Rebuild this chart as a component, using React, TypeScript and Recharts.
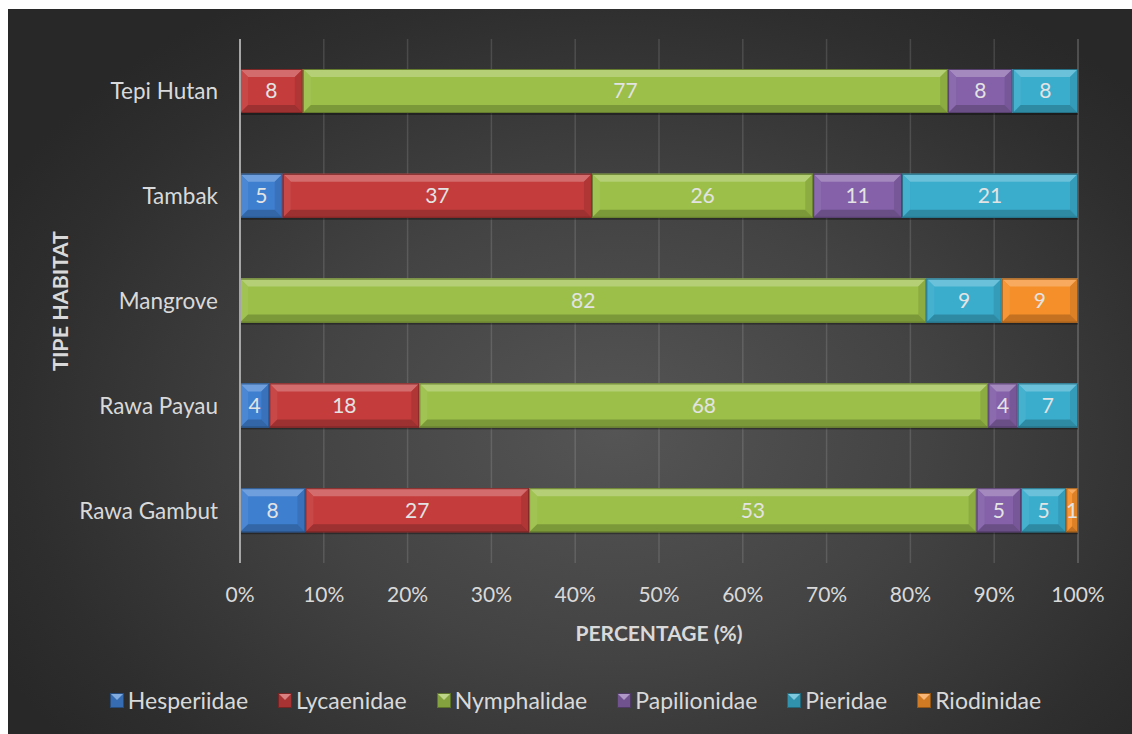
import { BarChart, Bar, XAxis, YAxis, CartesianGrid, LabelList, Legend } from 'recharts';

const habitats = ['Tepi Hutan', 'Tambak', 'Mangrove', 'Rawa Payau', 'Rawa Gambut'];

// percentage of each family per habitat
const hesperiidae = [0, 5.1, 0, 3.5, 7.8];
const lycaenidae = [7.5, 36.9, 0, 17.9, 26.7];
const nymphalidae = [77.0, 26.4, 81.9, 67.9, 53.4];
const papilionidae = [7.7, 10.6, 0, 3.5, 5.3];
const pieridae = [7.8, 21.0, 9.0, 7.2, 5.4];
const riodinidae = [0, 0, 9.1, 0, 1.4];

const xTicks = [0, 10, 20, 30, 40, 50, 60, 70, 80, 90, 100];

const SERIES = [
  { key: 'Hesperiidae', values: hesperiidae, color: '#3f7fd0' },
  { key: 'Lycaenidae', values: lycaenidae, color: '#c43c3c' },
  { key: 'Nymphalidae', values: nymphalidae, color: '#9bbf48' },
  { key: 'Papilionidae', values: papilionidae, color: '#8461a8' },
  { key: 'Pieridae', values: pieridae, color: '#3aaccc' },
  { key: 'Riodinidae', values: riodinidae, color: '#f58f2a' },
];

const data = habitats.map((h, i) => {
  const row: Record<string, string | number> = { habitat: h };
  SERIES.forEach(s => { row[s.key] = s.values[i]; });
  return row;
});

const FONT = 'Lato, "Open Sans", sans-serif';
const TEXT = '#d9d9d9';

function mix(hex: string, target: string, t: number) {
  const a = parseInt(hex.slice(1), 16);
  const b = parseInt(target.slice(1), 16);
  const ch = (n: number, s: number) => (n >> s) & 255;
  const r = Math.round(ch(a, 16) + (ch(b, 16) - ch(a, 16)) * t);
  const g = Math.round(ch(a, 8) + (ch(b, 8) - ch(a, 8)) * t);
  const bl = Math.round(ch(a, 0) + (ch(b, 0) - ch(a, 0)) * t);
  return `rgb(${r},${g},${bl})`;
}

// beveled rectangle, like the Office "bevel" shape effect
function BevelBar(props: any) {
  const { x, y, width, height, color } = props;
  if (!width || width <= 0.5) return null;
  const b = Math.min(8, width / 2, height / 2);
  const x2 = x + width;
  const y2 = y + height;
  const pts = (arr: number[][]) => arr.map(p => p.join(',')).join(' ');
  return (
    <g>
      <rect x={x} y={y + 2} width={width} height={height} fill="rgba(0,0,0,0.35)" />
      <rect x={x} y={y} width={width} height={height} fill={color} />
      <polygon points={pts([[x, y], [x2, y], [x2 - b, y + b], [x + b, y + b]])} fill={mix(color, '#ffffff', 0.25)} />
      <polygon points={pts([[x, y], [x + b, y + b], [x + b, y2 - b], [x, y2]])} fill={mix(color, '#ffffff', 0.06)} />
      <polygon points={pts([[x2, y], [x2, y2], [x2 - b, y2 - b], [x2 - b, y + b]])} fill={mix(color, '#000000', 0.1)} />
      <polygon points={pts([[x, y2], [x + b, y2 - b], [x2 - b, y2 - b], [x2, y2]])} fill={mix(color, '#000000', 0.2)} />
      <rect x={x + 0.5} y={y + 0.5} width={width - 1} height={height - 1} fill="none" stroke={mix(color, '#000000', 0.35)} strokeWidth={1} />
    </g>
  );
}

function LegendMarker({ color }: { color: string }) {
  return (
    <svg width={14} height={15} style={{ display: 'block' }}>
      <rect x={0} y={0} width={14} height={15} fill={mix(color, '#000000', 0.15)} />
      <polygon points="0,0 14,0 7,7" fill={mix(color, '#ffffff', 0.35)} />
      <rect x={0.5} y={0.5} width={13} height={14} fill="none" stroke={mix(color, '#000000', 0.4)} />
    </svg>
  );
}

function LegendContent() {
  return (
    <div style={{ display: 'flex', justifyContent: 'center', alignItems: 'center', gap: 30, height: 30, paddingLeft: 45 }}>
      {SERIES.map(s => (
        <div key={s.key} style={{ display: 'flex', alignItems: 'center', gap: 4 }}>
          <LegendMarker color={s.color} />
          <span style={{ color: TEXT, fontSize: 23, fontFamily: FONT }}>{s.key}</span>
        </div>
      ))}
    </div>
  );
}

export default function App() {
  return (
    <>
      <style>{'body{margin:0;overflow:hidden}'}</style>
      <div
        style={{
          marginLeft: 8,
          marginTop: 9,
          width: 1124,
          height: 725,
          background: 'radial-gradient(ellipse 62% 70% at 54% 58%, #555555 0%, #434343 45%, #2e2e2e 85%, #282828 100%)',
        }}
      >
        <BarChart
          width={1124}
          height={725}
          data={data}
          layout="vertical"
          margin={{ top: 30, right: 54, bottom: 71, left: 20 }}
          barSize={44}
        >
          <CartesianGrid horizontal={false} stroke="rgba(255,255,255,0.13)" strokeWidth={1.5} />
          <XAxis
            type="number"
            domain={[0, 100]}
            ticks={xTicks}
            tickFormatter={(v: number) => `${v}%`}
            axisLine={false}
            tickLine={false}
            tickSize={0}
            tickMargin={24}
            height={70}
            tick={{ fill: TEXT, fontSize: 21, fontFamily: FONT }}
            label={{
              content: (p: any) => (
                <text
                  x={p.viewBox.x + p.viewBox.width / 2}
                  y={p.viewBox.y + 69}
                  textAnchor="middle"
                  dominantBaseline="central"
                  fill={TEXT}
                  fontSize={21}
                  fontWeight={700}
                  fontFamily={FONT}
                >
                  PERCENTAGE (%)
                </text>
              ),
            }}
          />
          <YAxis
            type="category"
            dataKey="habitat"
            width={212}
            axisLine={{ stroke: '#a6a6a6', strokeWidth: 2 }}
            tickLine={false}
            tickSize={0}
            tickMargin={22}
            tick={{ fill: TEXT, fontSize: 22.5, fontFamily: FONT }}
            label={{
              content: (p: any) => {
                const cx = p.viewBox.x + 32;
                const cy = p.viewBox.y + p.viewBox.height / 2;
                return (
                  <text
                    x={cx}
                    y={cy}
                    transform={`rotate(-90 ${cx} ${cy})`}
                    textAnchor="middle"
                    dominantBaseline="central"
                    fill={TEXT}
                    fontSize={21.5}
                    fontWeight={700}
                    fontFamily={FONT}
                  >
                    TIPE HABITAT
                  </text>
                );
              },
            }}
          />
          <Legend
            verticalAlign="bottom"
            content={<LegendContent />}
            wrapperStyle={{ bottom: 19, height: 30 }}
          />
          {SERIES.map(s => (
            <Bar
              key={s.key}
              dataKey={s.key}
              stackId="a"
              isAnimationActive={false}
              shape={(props: any) => <BevelBar {...props} color={s.color} />}
            >
              <LabelList
                dataKey={s.key}
                position="center"
                formatter={(v: any) => (v ? String(Math.round(Number(v))) : '')}
                fill="#e3e3e3"
                fontSize={21}
                fontFamily={FONT}
              />
            </Bar>
          ))}
        </BarChart>
      </div>
    </>
  );
}
